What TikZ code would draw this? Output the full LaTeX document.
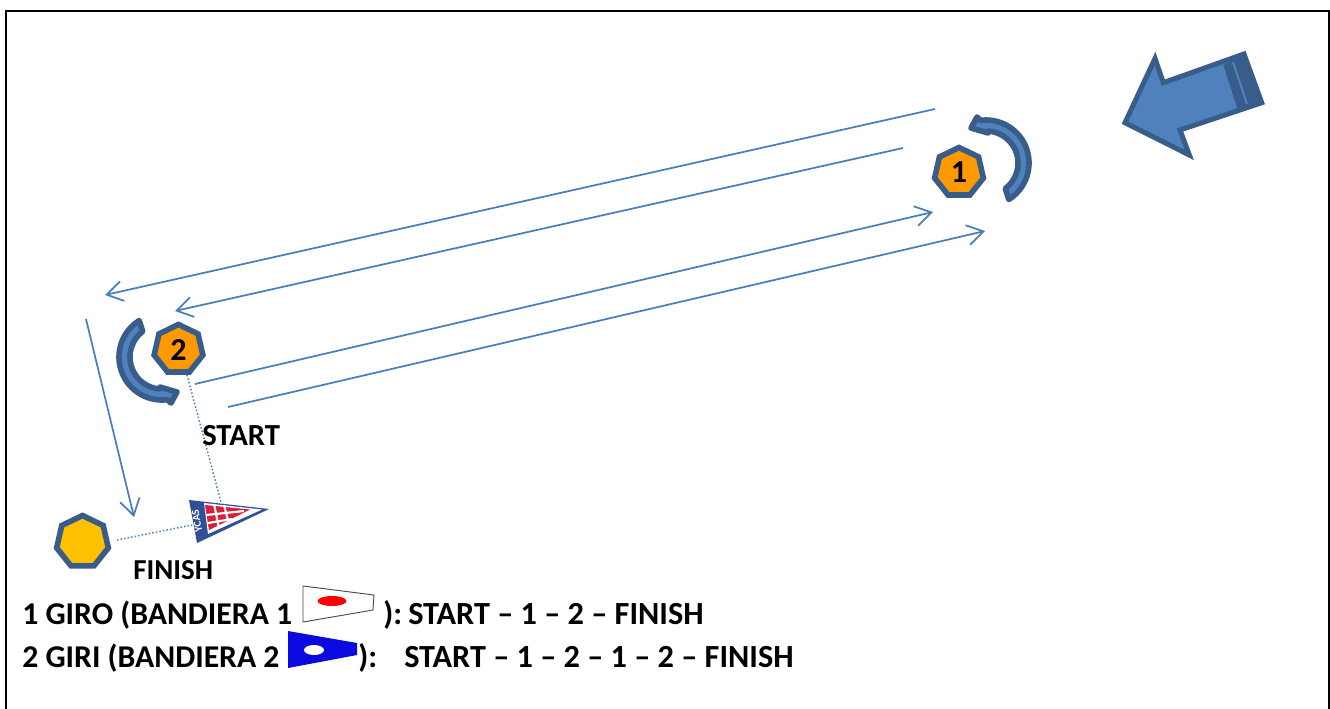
\documentclass[tikz,border=0pt]{standalone}
\usepackage{fontspec}
\setmainfont{Carlito}
\usetikzlibrary{arrows.meta,shapes.geometric}
\definecolor{lineblue}{HTML}{4A7EBB}
\definecolor{darkblue}{HTML}{385D8A}
\definecolor{fillblue}{HTML}{4F81BD}
\definecolor{flagblue}{HTML}{0A0AE0}
\definecolor{penblue}{HTML}{2F4F96}
\definecolor{penred}{HTML}{D8203A}
\definecolor{markorange}{HTML}{FF9900}
\definecolor{markyellow}{HTML}{FFC000}
\tikzset{
  x=0.75pt,y=-0.75pt,
  course/.style={draw=lineblue,line width=1.3pt,-{Straight Barb[length=12pt,width=15pt,line width=1.3pt]}},
  dotline/.style={draw=lineblue,line width=1.1pt,dash pattern=on 1.1pt off 1.6pt},
  mark1/.style={regular polygon,regular polygon sides=7,minimum size=37.5pt,inner sep=0pt,draw=darkblue,line width=4.2pt,fill=#1,font=\bfseries\fontsize{24}{24}\selectfont},
  lab/.style={inner sep=0pt,anchor=base west,font=\bfseries\fontsize{24.2}{26}\selectfont},
  leftlab/.style={inner sep=0pt,anchor=base west,font=\bfseries\fontsize{23.8}{26}\selectfont},
  startlab/.style={inner sep=0pt,anchor=base west,font=\bfseries\fontsize{23}{24}\selectfont},
  finishlab/.style={inner sep=0pt,anchor=base west,font=\bfseries\fontsize{21.7}{24}\selectfont},
  turnarrow/.pic={
    \draw[fill=fillblue,draw=darkblue,line width=4.2pt,line join=round]
      plot[domain=58:-97,samples=40] ({43*cos(\x)},{43*sin(\x)})
      -- (-9,-46) -- (-15,-35) -- (2,-30)
      -- plot[domain=-86:53,samples=40] ({32*cos(\x)},{32*sin(\x)}) -- cycle;
  }
}
\begin{document}
\begin{tikzpicture}
\useasboundingbox (0,0) rectangle (1330,708);
\path[fill=white] (0,0) rectangle (1330,708);
% frame
\draw[black,line width=1.6pt] (6,709) -- (6,11) -- (1329,11) -- (1329,709);

% big wind arrow
\draw[fill=fillblue,draw=darkblue,line width=3.75pt,line join=miter]
  (1125,122.7) -- (1155,58.5) -- (1163.3,82.7) -- (1244,54) -- (1261.7,102.7) -- (1180,130) -- (1189.3,155) -- cycle;
\fill[darkblue] (1223.3,65) -- (1237.3,108.3) -- (1261.7,102.7) -- (1244,54) -- cycle;
\draw[fillblue,line width=1.6pt] (1233,62) -- (1247,104);

% marks
\node[mark1=markorange] (m1) at (959,172.5) {1};
\node[mark1=markorange] (m2) at (178.5,349.5) {2};
\node[mark1=markyellow,minimum size=39.75pt] (fin) at (82.5,542) {};

% rounding arrows
\pic at (986,163) {turnarrow};
\pic[rotate=180] at (162,357) {turnarrow};

% course legs
\coordinate (a1) at (935,109);   \coordinate (a2) at (105,295);
\coordinate (b1) at (903,148);   \coordinate (b2) at (175,311);
\coordinate (c1) at (195,384);   \coordinate (c2) at (933,212);
\coordinate (d1) at (228,407);   \coordinate (d2) at (985,231);
\coordinate (e1) at (86,319);    \coordinate (e2) at (134,517);
\draw[course] (a1) -- (a2);
\draw[course] (b1) -- (b2);
\draw[course] (c1) -- (c2);
\draw[course] (d1) -- (d2);
\draw[course] (e1) -- (e2);

% start and finish lines
\coordinate (s1) at (187,375);  \coordinate (s2) at (221,502);
\coordinate (f1) at (117,540);  \coordinate (f2) at (192,525);
\draw[dotline] (s1) -- (s2);
\draw[dotline] (f1) -- (f2);

% club pennant
\fill[penblue] (189,500) -- (269,509) -- (197,543) -- cycle;
\fill[white] (204,503) -- (262,509.5) -- (208,534) -- cycle;
\fill[penred] (205,505) -- (250,509.5) -- (209,530) -- cycle;
\draw[white,line width=1.6pt] (214,504) -- (219,528) (224,505) -- (229,524) (206,515) -- (244,511) (208,523) -- (232,519);
\node[rotate=100,text=white,inner sep=0pt,font=\bfseries\fontsize{8}{8}\selectfont] (club) at (197,521) {YCAS};

% flags
\draw[black!70,line width=0.7pt,fill=white] (303,586) -- (374,595) -- (373,610) -- (303,622) -- cycle;
\fill[red] (332,601) ellipse [x radius=14.5,y radius=5];
\fill[flagblue] (288,631) -- (357,643) -- (357,655) -- (288,668) -- cycle;
\fill[white] (314,650) ellipse [x radius=10,y radius=5];

% texts
\node[startlab] (st) at (202,445) {START};
\node[finishlab] (fi) at (133,579) {FINISH};
\node[leftlab] (l1) at (22,624) {1 GIRO (BANDIERA 1};
\node[lab] (l1b) at (383,624) {):};
\node[lab] (l1c) at (408,624) {START – 1 – 2 – FINISH};
\node[leftlab] (l2) at (22,667) {2 GIRI (BANDIERA 2};
\node[lab] (l2b) at (358,667) {):};
\node[lab] (l2c) at (404,667) {START – 1 – 2 – 1 – 2 – FINISH};
\end{tikzpicture}
\end{document}
